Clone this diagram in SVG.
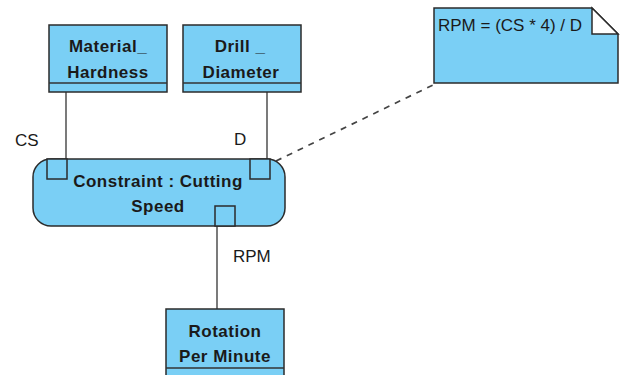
<svg xmlns="http://www.w3.org/2000/svg" width="623" height="375" viewBox="0 0 623 375">
<style>
.box{fill:#7acff5;stroke:#2b2b2b;stroke-width:1.5}
.port{fill:#7acff5;stroke:#2b2b2b;stroke-width:1.5}
.ln{fill:none;stroke:#333;stroke-width:1.3}
.b{font-family:"Liberation Sans",Arial,sans-serif;font-weight:bold;font-size:17px;letter-spacing:0.5px;fill:#1a1a1a;text-anchor:middle}
.r{font-family:"Liberation Sans",Arial,sans-serif;font-size:17px;fill:#1a1a1a}
</style>
<rect width="623" height="375" fill="#fff"/>
<g id="connectors">
<line class="ln" x1="66" y1="92" x2="66" y2="159"/>
<line class="ln" x1="267" y1="92" x2="267" y2="159"/>
<line class="ln" x1="217" y1="226" x2="217" y2="309"/>
<line x1="276" y1="161" x2="435" y2="84" stroke="#444" stroke-width="1.7" stroke-dasharray="6,6"/>
<text class="r" x="15" y="146">CS</text>
<text class="r" x="234" y="145">D</text>
<text class="r" x="233" y="262">RPM</text>
</g>
<g id="material">
<rect class="box" x="49" y="25" width="118" height="67"/>
<line class="ln" x1="49" y1="83" x2="167" y2="83"/>
<text class="b" x="108" y="52">Material_</text>
<text class="b" x="108" y="78">Hardness</text>
</g>
<g id="drill">
<rect class="box" x="183" y="25" width="118" height="67"/>
<line class="ln" x1="183" y1="83" x2="301" y2="83"/>
<text class="b" x="240" y="52">Drill _</text>
<text class="b" x="241" y="78">Diameter</text>
</g>
<g id="constraint">
<rect class="box" x="33" y="159" width="252" height="67" rx="18" ry="18"/>
<rect class="port" x="47" y="159" width="20" height="20"/>
<rect class="port" x="250" y="159" width="20" height="20"/>
<rect class="port" x="215" y="206" width="20" height="20"/>
<text class="b" x="158" y="187">Constraint : Cutting</text>
<text class="b" x="158" y="212">Speed</text>
</g>
<g id="rotation">
<rect class="box" x="166" y="309" width="118" height="80"/>
<line class="ln" x1="166" y1="368" x2="284" y2="368"/>
<text class="b" x="225" y="337">Rotation</text>
<text class="b" x="225" y="362">Per Minute</text>
</g>
<g id="note">
<path class="box" d="M434,8 H592 L618,34 V83 H434 Z"/>
<path d="M592,8 V34 H618 Z" fill="#fff" stroke="#2b2b2b" stroke-width="1.5"/>
<text class="r" x="438" y="31">RPM = (CS * 4) / D</text>
</g>
</svg>
